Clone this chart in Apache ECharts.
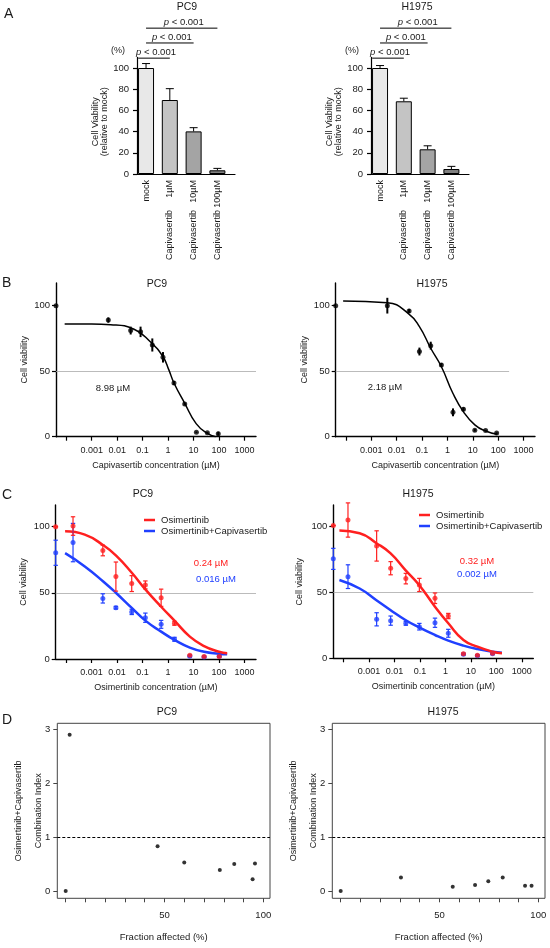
<!DOCTYPE html>
<html>
<head>
<meta charset="utf-8">
<script src="https://cdn.jsdelivr.net/npm/echarts@6/dist/echarts.min.js"></script>
<style>
  html, body { margin: 0; padding: 0; background: #fff; }
  #main { width: 550px; height: 948px; }
</style>
</head>
<body>
<div id="main"></div>
<script>
// ---------- data ----------
// A: cell viability relative to mock (%)
var aLabels = ['mock', '1µM', '10µM', '100µM'];
var aColors = ['#e8e8e8', '#c4c4c4', '#a4a4a4', '#808080'];
var aPc9Via = [100, 69.8, 40.2, 3.5];
var aPc9Err = [4.2, 10.7, 3.5, 1.8];
var aH1975Via = [100, 68.6, 23.3, 4.7];
var aH1975Err = [2.3, 2.9, 3.3, 2.5];
// significance brackets: [from, to, height]
var aSig = [[-0.33, 1, 109.3], [0, 2, 123.6], [0, 3, 137.6]];

// log tick labels (-3 .. 3)
var logTickLabels = ['0.001', '0.01', '0.1', '1', '10', '100', '1000'];

// B: capivasertib dose response (µM, % viability)
var bPc9Conc = [0.0045, 0.034, 0.083, 0.24, 0.63, 1.7, 4.5, 12.9, 34.7, 93];
var bPc9Via = [89, 81, 80, 70, 60.6, 41, 25, 3.4, 3, 2.3];
var bPc9Err = [2, 3, 4, 5, 4, 1.5, 1, 0.5, 0.5, 1.5];
var bPc9Ctrl = 100;
var bPc9FitConc = [0.000087, 0.001, 0.0056, 0.046, 0.2, 0.63, 1.07, 1.7, 4.5, 12.6, 35, 74];
var bPc9FitVia = [86, 86, 85.5, 82, 72.5, 61, 51, 41, 25.5, 10, 2.5, 0];

var bH1975Conc = [0.0043, 0.031, 0.079, 0.22, 0.58, 1.66, 4.3, 12, 32, 87];
var bH1975Via = [100, 96, 65, 69.5, 54.7, 18.6, 21, 5, 4.8, 2.8];
var bH1975Err = [6, 1.5, 3, 3, 1.5, 3, 1.5, 1, 0.5, 0.5];
var bH1975Ctrl = 100;
var bH1975FitConc = [0.000078, 0.0043, 0.029, 0.079, 0.22, 0.58, 1.66, 4.3, 12, 32, 93];
var bH1975FitVia = [103.6, 102.3, 94, 84, 67.5, 53.4, 33, 19, 9, 4.3, 1.8];

// C: osimertinib alone / with capivasertib
var cPc9Conc = [0.00019, 0.0028, 0.0091, 0.038, 0.13, 0.54, 1.8, 7.2, 26, 102];
var cPc9Osi = [100.5, 82, 62.3, 57, 56, 46.3, 27, 2.8, 1.8, 1.8];
var cPc9OsiErr = [7, 4, 11, 6, 3, 6.5, 1.5, 0.5, 0.5, 0.5];
var cPc9Combo = [88, 45.8, 38.8, 35.6, 31.2, 26.2, 14.9, 2, 1.5, 2];
var cPc9ComboErr = [14.5, 3.5, 1, 2, 3.5, 3, 1.5, 0.5, 0.5, 0.5];
var cPc9Ctrl = [100, 80.3];
var cPc9CtrlErr = [0, 9.5];
var cPc9FitConc = [0.000093, 0.00055, 0.0029, 0.0095, 0.039, 0.13, 0.54, 1.8, 7.2, 26, 100, 209];
var cPc9FitOsi = [96.5, 94, 86, 78, 65, 52.6, 39.5, 29, 16.9, 9.8, 5.5, 4.3];
var cPc9FitCombo = [80, 70, 58.6, 49.7, 38.4, 29, 20.7, 14.4, 8.6, 5.5, 4, 3.5];

var cH1975Conc = [0.00015, 0.002, 0.0071, 0.028, 0.095, 0.39, 1.3, 5.1, 18, 71];
var cH1975Osi = [105, 85.3, 68.4, 60.5, 55.7, 45.6, 32.1, 3.5, 2.3, 3.8];
var cH1975OsiErr = [13, 11.5, 5, 4, 5, 4, 2, 0.5, 0.5, 0.5];
var cH1975Combo = [62, 29.6, 28.6, 26.6, 24, 27, 19, 3, 2, 3.5];
var cH1975ComboErr = [9, 5, 3.5, 1.5, 2.5, 3.5, 3, 0.5, 0.5, 0.5];
var cH1975Ctrl = [100.8, 75.5];
var cH1975CtrlErr = [0, 8];
var cH1975FitConc = [0.000069, 0.00043, 0.0019, 0.0069, 0.027, 0.093, 0.39, 1.3, 5.1, 18, 71, 166];
var cH1975FitOsi = [97, 95, 87.6, 79.8, 67, 55.7, 39.2, 26.6, 13.9, 8.8, 5, 3.8];
var cH1975FitCombo = [59.5, 53, 44.3, 36.7, 29.1, 23.5, 17.7, 13.4, 9.6, 7, 5, 4.3];

// D: combination index vs fraction affected
var dPc9Fa = [0, 2, 46.5, 60, 78, 85.3, 94.6, 95.8];
var dPc9Ci = [0, 2.9, 0.83, 0.53, 0.39, 0.5, 0.22, 0.51];
var dH1975Fa = [0, 30.5, 56.7, 68, 74.7, 82, 93.3, 96.6];
var dH1975Ci = [0, 0.25, 0.08, 0.11, 0.18, 0.25, 0.1, 0.1];

// ---------- style ----------
var FONT = '"Liberation Sans", Arial, sans-serif';
var INK = '#1a1a1a';
var RED = '#ff2020';
var BLUE = '#2040ff';
var LOG_MIN = -4.4, LOG_MAX = 3.45;

var grids = [], xAxes = [], yAxes = [], series = [];

function txt(size) {
  return { fontSize: size, color: INK, fontFamily: FONT };
}
function lg(c) { return Math.log10(c); }

// error bar renderer; data item = [x, lo, hi]
function errBars(color, lw, cap, lowCap) {
  return function (params, api) {
    var x = api.value(0);
    var p1 = api.coord([x, api.value(1)]);
    var p2 = api.coord([x, api.value(2)]);
    var kids = [{
      type: 'line',
      shape: { x1: p1[0], y1: p1[1], x2: p2[0], y2: p2[1] },
      style: { stroke: color, lineWidth: lw }
    }];
    if (cap) {
      kids.push({ type: 'line', shape: { x1: p2[0] - cap, y1: p2[1], x2: p2[0] + cap, y2: p2[1] },
        style: { stroke: color, lineWidth: lw } });
      if (lowCap) {
        kids.push({ type: 'line', shape: { x1: p1[0] - cap, y1: p1[1], x2: p1[0] + cap, y2: p1[1] },
          style: { stroke: color, lineWidth: lw } });
      }
    }
    return { type: 'group', children: kids };
  };
}

// ---------- panel A ----------
function panelA(left, via, err) {
  var gi = grids.length;
  grids.push({ left: left, top: 57.4, width: 98, height: 116.6 });
  var xi = xAxes.length;
  xAxes.push({
    type: 'value', gridIndex: gi, position: 'bottom', min: -0.38, max: 3.74,
    axisLine: { onZero: false, lineStyle: { color: '#000', width: 1.2 } },
    axisTick: { show: false },
    axisLabel: Object.assign(txt(9), {
      customValues: [0, 1, 2, 3], rotate: 90, margin: 6,
      formatter: function (v) { return aLabels[Math.round(v)]; }
    }),
    splitLine: { show: false }
  });
  xAxes.push({
    type: 'value', gridIndex: gi, position: 'bottom', min: -0.38, max: 3.74,
    axisLine: { show: false, onZero: false }, axisTick: { show: false },
    axisLabel: Object.assign(txt(9), {
      customValues: [1, 2, 3], rotate: 90, margin: 36,
      formatter: function () { return 'Capivasertib'; }
    }),
    splitLine: { show: false }
  });
  yAxes.push({
    type: 'value', gridIndex: gi, min: 0, max: 110,
    name: 'Cell Viability\n(relative to mock)', nameLocation: 'middle', nameGap: 27.5, nameMoveOverlap: false,
    nameTextStyle: Object.assign(txt(9), { lineHeight: 9, padding: [0, 12, 0, 0] }),
    axisLine: { show: true, onZero: false, lineStyle: { color: '#000', width: 1.2 } },
    axisTick: { show: true, customValues: [0, 20, 40, 60, 80, 100], length: 4, lineStyle: { color: '#000', width: 1.2 } },
    axisLabel: Object.assign(txt(9.5), { customValues: [0, 20, 40, 60, 80, 100], margin: 8 }),
    splitLine: { show: false }
  });
  series.push({
    type: 'bar', xAxisIndex: xi, yAxisIndex: gi, barWidth: 16, silent: true,
    data: via.map(function (v, i) {
      return { value: [i, v], itemStyle: { color: aColors[i], borderColor: '#000', borderWidth: 1 } };
    })
  });
  series.push({
    type: 'custom', xAxisIndex: xi, yAxisIndex: gi, silent: true, z: 3,
    renderItem: errBars('#000', 1, 4, false),
    data: via.map(function (v, i) { return [i, v, v + err[i]]; })
  });
  series.push({
    type: 'custom', xAxisIndex: xi, yAxisIndex: gi, silent: true, clip: false,
    renderItem: function (params, api) {
      var a = api.coord([api.value(0), api.value(2)]);
      var b = api.coord([api.value(1), api.value(2)]);
      return {
        type: 'group', children: [
          { type: 'line', shape: { x1: a[0], y1: a[1], x2: b[0], y2: b[1] }, style: { stroke: '#000', lineWidth: 1 } },
          { type: 'text', x: (a[0] + b[0]) / 2 + 2, y: a[1] - 1,
            style: { text: '{i|p} < 0.001', rich: { i: { fontStyle: 'italic', fontSize: 9.5, fontFamily: FONT, fill: INK } },
              fontSize: 9.5, fontFamily: FONT, fill: INK,
              align: 'center', verticalAlign: 'bottom', textAlign: 'center', textVerticalAlign: 'bottom' } }
        ]
      };
    },
    data: aSig
  });
}

// ---------- dose response axes ----------
function doseGrid(left, top, width, height, ymax, xname, nameGap) {
  var gi = grids.length;
  grids.push({ left: left, top: top, width: width, height: height });
  var xi = xAxes.length;
  xAxes.push({
    type: 'value', gridIndex: gi, min: LOG_MIN, max: LOG_MAX,
    name: xname, nameLocation: 'middle', nameGap: 24, nameTextStyle: txt(9),
    axisLine: { onZero: false, lineStyle: { color: '#000', width: 1.4 } },
    axisTick: { customValues: [-4, -3, -2, -1, 0, 1, 2, 3], length: 4, lineStyle: { color: '#000', width: 1.2 } },
    axisLabel: Object.assign(txt(9), {
      customValues: [-3, -2, -1, 0, 1, 2, 3], margin: 9,
      formatter: function (v) { return logTickLabels[Math.round(v) + 3]; }
    }),
    splitLine: { show: false }
  });
  yAxes.push({
    type: 'value', gridIndex: gi, min: 0, max: ymax,
    name: 'Cell viability', nameLocation: 'middle', nameGap: nameGap, nameMoveOverlap: false, nameTextStyle: txt(9),
    axisLine: { show: true, onZero: false, lineStyle: { color: '#000', width: 1.4 } },
    axisTick: { show: true, customValues: [0, 50, 100], length: 4, lineStyle: { color: '#000', width: 1.2 } },
    axisLabel: Object.assign(txt(9.5), { customValues: [0, 50, 100], margin: 6 }),
    splitLine: { show: false }
  });
  return { x: xi, y: gi };
}

function fitLine(ax, name, conc, via, color, width, halfEnd) {
  var s = {
    type: 'line', name: name, xAxisIndex: ax.x, yAxisIndex: ax.y, silent: true,
    smooth: 0.5, symbol: 'none', z: 2,
    lineStyle: { color: color, width: width }, itemStyle: { color: color },
    data: conc.map(function (c, i) { return [lg(c), via[i]]; })
  };
  if (halfEnd !== undefined) {
    s.markLine = {
      silent: true, symbol: 'none', label: { show: false }, z: 1,
      lineStyle: { color: '#aaa', width: 0.8, type: 'solid' },
      data: [[{ coord: [LOG_MIN, 50] }, { coord: [halfEnd, 50] }]]
    };
  }
  series.push(s);
}

function points(ax, conc, via, err, ctrl, ctrlErr, color, lw, cap) {
  var xs = [LOG_MIN].concat(conc.map(lg));
  var ys = [ctrl].concat(via);
  var es = [ctrlErr].concat(err);
  series.push({
    type: 'custom', xAxisIndex: ax.x, yAxisIndex: ax.y, silent: true, z: 3,
    renderItem: errBars(color, lw, cap, true),
    data: xs.map(function (x, i) { return [x, ys[i] - es[i], ys[i] + es[i]]; })
  });
  series.push({
    type: 'scatter', xAxisIndex: ax.x, yAxisIndex: ax.y, silent: true, z: 4,
    symbol: 'circle', symbolSize: 5, itemStyle: { color: color },
    data: xs.map(function (x, i) { return [x, ys[i]]; })
  });
}

// ---------- panel D ----------
function ciGrid(left, fa, ci) {
  var gi = grids.length;
  grids.push({ left: left, top: 723.3, width: 212.7, height: 175, show: true, borderColor: '#444', borderWidth: 1 });
  var xi = xAxes.length;
  xAxes.push({
    type: 'value', gridIndex: gi, min: -4.25, max: 103.4,
    name: 'Fraction affected (%)', nameLocation: 'middle', nameGap: 34, nameTextStyle: txt(9.5),
    axisLine: { show: false, onZero: false },
    axisTick: { show: true, customValues: [0, 10, 20, 30, 40, 50, 60, 70, 80, 90, 100], length: 4, lineStyle: { color: '#444' } },
    axisLabel: Object.assign(txt(9.5), { customValues: [50, 100], margin: 12 }),
    splitLine: { show: false }
  });
  yAxes.push({
    type: 'value', gridIndex: gi, min: -0.135, max: 3.11,
    name: 'Osimertinib+Capivasertib\nCombination Index', nameLocation: 'middle', nameGap: 9, nameMoveOverlap: false,
    nameTextStyle: Object.assign(txt(9), { lineHeight: 20 }),
    axisLine: { show: false, onZero: false },
    axisTick: { show: true, customValues: [0, 1, 2, 3], length: 4, lineStyle: { color: '#444' } },
    axisLabel: Object.assign(txt(9.5), { customValues: [0, 1, 2, 3], margin: 7 }),
    splitLine: { show: false }
  });
  series.push({
    type: 'scatter', xAxisIndex: xi, yAxisIndex: gi, silent: true,
    symbol: 'circle', symbolSize: 4, itemStyle: { color: '#000' },
    data: fa.map(function (f, i) { return [f, ci[i]]; }),
    markLine: {
      silent: true, symbol: 'none', label: { show: false },
      lineStyle: { color: '#000', width: 1, type: [3, 2] },
      data: [{ yAxis: 1 }]
    }
  });
}

// build panels
panelA(137, aPc9Via, aPc9Err);
panelA(371, aH1975Via, aH1975Err);

var bL = doseGrid(56, 283, 200, 153.7, 117.3, 'Capivasertib concentration (µM)', 27);
fitLine(bL, 'fitB1', bPc9FitConc, bPc9FitVia, '#000', 1.5, LOG_MAX);
points(bL, bPc9Conc, bPc9Via, bPc9Err, bPc9Ctrl, 0, '#000', 2, 0);

var bR = doseGrid(335.7, 283, 199.3, 153.7, 117.3, 'Capivasertib concentration (µM)', 27);
fitLine(bR, 'fitB2', bH1975FitConc, bH1975FitVia, '#000', 1.5, 2.43);
points(bR, bH1975Conc, bH1975Via, bH1975Err, bH1975Ctrl, 0, '#000', 2, 0);

var cL = doseGrid(55.7, 505, 200.3, 154, 116.4, 'Osimertinib concentration (µM)', 28);
fitLine(cL, 'Osimertinib+Capivasertib', cPc9FitConc, cPc9FitCombo, BLUE, 2.5, LOG_MAX);
fitLine(cL, 'Osimertinib', cPc9FitConc, cPc9FitOsi, RED, 2.5);
points(cL, cPc9Conc, cPc9Combo, cPc9ComboErr, cPc9Ctrl[1], cPc9CtrlErr[1], BLUE, 1.2, 2.2);
points(cL, cPc9Conc, cPc9Osi, cPc9OsiErr, cPc9Ctrl[0], cPc9CtrlErr[0], RED, 1.2, 2.2);

var cR = doseGrid(333.3, 505, 200, 153.3, 116.4, 'Osimertinib concentration (µM)', 29);
fitLine(cR, 'Osimertinib+Capivasertib', cH1975FitConc, cH1975FitCombo, BLUE, 2.5, LOG_MAX);
fitLine(cR, 'Osimertinib', cH1975FitConc, cH1975FitOsi, RED, 2.5);
points(cR, cH1975Conc, cH1975Combo, cH1975ComboErr, cH1975Ctrl[1], cH1975CtrlErr[1], BLUE, 1.2, 2.2);
points(cR, cH1975Conc, cH1975Osi, cH1975OsiErr, cH1975Ctrl[0], cH1975CtrlErr[0], RED, 1.2, 2.2);

ciGrid(57.3, dPc9Fa, dPc9Ci);
ciGrid(332.3, dH1975Fa, dH1975Ci);

// titles and panel letters
function title(text, x, top, size, align) {
  return { text: text, left: x, top: top, padding: 0, textAlign: align || 'center',
    textStyle: { fontSize: size, fontWeight: 'normal', color: INK, fontFamily: FONT } };
}
var titles = [
  title('A', 4, 7, 14, 'left'), title('PC9', 187, 2, 10.5), title('H1975', 417, 2, 10.5),
  title('B', 2, 276, 14, 'left'), title('PC9', 157, 279, 10.5), title('H1975', 432, 279, 10.5),
  title('C', 2, 488, 14, 'left'), title('PC9', 143, 489, 10.5), title('H1975', 418, 489, 10.5),
  title('D', 2, 713, 14, 'left'), title('PC9', 167, 707, 10.5), title('H1975', 443, 707, 10.5)
];

function label(text, x, y, color, size) {
  return { type: 'text', x: x, y: y, silent: true,
    style: { text: text, fill: color || INK, fontSize: size || 9, fontFamily: FONT,
      align: 'center', verticalAlign: 'middle', textAlign: 'center', textVerticalAlign: 'middle' } };
}
var graphics = [
  label('(%)', 118, 51), label('(%)', 352, 51),
  label('8.98 µM', 113, 388, INK, 9.5), label('2.18 µM', 385, 387, INK, 9.5),
  label('0.24 µM', 211, 563, RED, 9.5), label('0.016 µM', 216, 579, BLUE, 9.5),
  label('0.32 µM', 477, 561, RED, 9.5), label('0.002 µM', 477, 574, BLUE, 9.5)
];

function legendAt(left, top) {
  return {
    left: left, top: top, padding: 0, orient: 'vertical', itemGap: 1,
    icon: 'rect', itemWidth: 11, itemHeight: 2.5, selectedMode: false,
    data: ['Osimertinib', 'Osimertinib+Capivasertib'],
    textStyle: Object.assign(txt(9.5), { padding: [0, 0, 0, 1] })
  };
}

var chart = echarts.init(document.getElementById('main'), null, { renderer: 'canvas' });
chart.setOption({
  animation: false,
  backgroundColor: '#fff',
  title: titles,
  legend: [legendAt(144, 515), legendAt(419, 510)],
  grid: grids,
  xAxis: xAxes,
  yAxis: yAxes,
  series: series,
  graphic: graphics
});
</script>
</body>
</html>
